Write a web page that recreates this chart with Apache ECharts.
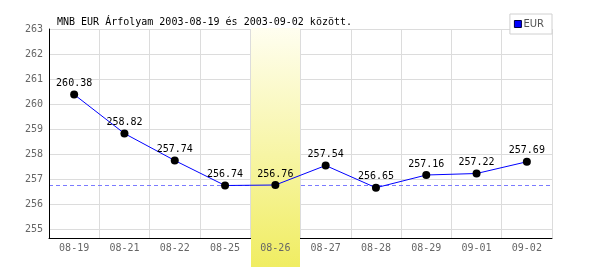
<!DOCTYPE html>
<html>
<head>
<meta charset="utf-8">
<script src="https://cdn.jsdelivr.net/npm/echarts@6/dist/echarts.min.js"></script>
<style>html,body{margin:0;padding:0;background:#fff}#c{width:600px;height:270px}</style>
</head>
<body>
<div id="c"></div>
<script>
var titleText = 'MNB EUR Árfolyam 2003-08-19 és 2003-09-02 között.';
var seriesName = 'EUR';
var categories = ['08-19','08-21','08-22','08-25','08-26','08-27','08-28','08-29','09-01','09-02'];
var values = [260.38, 258.82, 257.74, 256.74, 256.76, 257.54, 256.65, 257.16, 257.22, 257.69];
var yTicks = [255, 256, 257, 258, 259, 260, 261, 262, 263];
var yMin = 254.64, yMax = 263;
var highlightCategory = '08-26';
var referenceValue = 256.76;

var mono = 'DejaVu Sans Mono';
var chart = echarts.init(document.getElementById('c'), null, {renderer: 'canvas'});
var option = {
  animation: false,
  title: {
    text: titleText, left: 52, top: 11,
    textStyle: {fontFamily: mono, fontSize: 10, fontWeight: 'normal', color: '#000', lineHeight: 12}
  },
  legend: {
    right: 48, top: 14, orient: 'horizontal',
    backgroundColor: '#fff', borderColor: '#d0d0d0', borderWidth: 1,
    padding: [4, 8, 4, 4], itemGap: 2,
    itemWidth: 7, itemHeight: 7, z: 4,
    textStyle: {fontFamily: 'DejaVu Sans', fontSize: 10, color: '#555', padding: [0, 0, 0, -3], lineHeight: 12},
    data: [{name: seriesName, icon: 'rect', itemStyle: {color: '#0000ff', borderColor: '#000040', borderWidth: 1}}]
  },
  grid: {left: 49, right: 48, top: 29, bottom: 32, containLabel: false},
  xAxis: [{
    type: 'category', data: categories, boundaryGap: true, z: 0,
    axisLine: {lineStyle: {color: '#000', width: 1}},
    axisTick: {show: false},
    axisLabel: {show: false},
    splitLine: {show: true, lineStyle: {color: '#dcdcdc', width: 1}}
  }, {
    type: 'category', data: categories, boundaryGap: true, position: 'bottom', z: 2,
    axisLine: {show: false},
    axisTick: {show: false},
    axisLabel: {fontFamily: mono, fontSize: 10, color: '#666', margin: 5},
    splitLine: {show: false}
  }],
  yAxis: {
    type: 'value', min: yMin, max: yMax, z: 0,
    axisLine: {show: true, lineStyle: {color: '#000', width: 1}},
    axisTick: {show: false, customValues: yTicks},
    axisLabel: {fontFamily: mono, fontSize: 10, color: '#666', margin: 6, customValues: yTicks},
    splitLine: {show: true, lineStyle: {color: '#dcdcdc', width: 1}}
  },
  series: [{
    name: seriesName, type: 'line', data: values, z: 3, xAxisIndex: 0,
    lineStyle: {color: '#0000ff', width: 1},
    itemStyle: {color: '#000'},
    symbol: 'circle', symbolSize: 8, showAllSymbol: true,
    label: {show: true, position: 'top', distance: 2, fontFamily: mono, fontSize: 10, color: '#000'},
    markLine: {
      silent: true, symbol: 'none', z: 0,
      label: {show: false},
      lineStyle: {color: '#7b7bff', type: [4, 3], width: 1},
      data: [{yAxis: referenceValue}]
    }
  }]
};
chart.setOption(option);

var cx = chart.convertToPixel({xAxisIndex: 0}, highlightCategory);
var bw = chart.getModel().getComponent('xAxis', 0).axis.getBandWidth();
var gridRect = chart.getModel().getComponent('grid', 0).coordinateSystem.getRect();
chart.setOption({
  graphic: [{
    type: 'rect', z: 1, silent: true,
    shape: {x: Math.round(cx - bw / 2) + 1, y: gridRect.y - 1, width: Math.round(bw) - 1, height: 267 - (gridRect.y - 1)},
    style: {
      fill: new echarts.graphic.LinearGradient(0, 0, 0, 1, [
        {offset: 0, color: '#fffef0'},
        {offset: 1, color: '#f0ed62'}
      ])
    }
  }]
});
</script>
</body>
</html>
